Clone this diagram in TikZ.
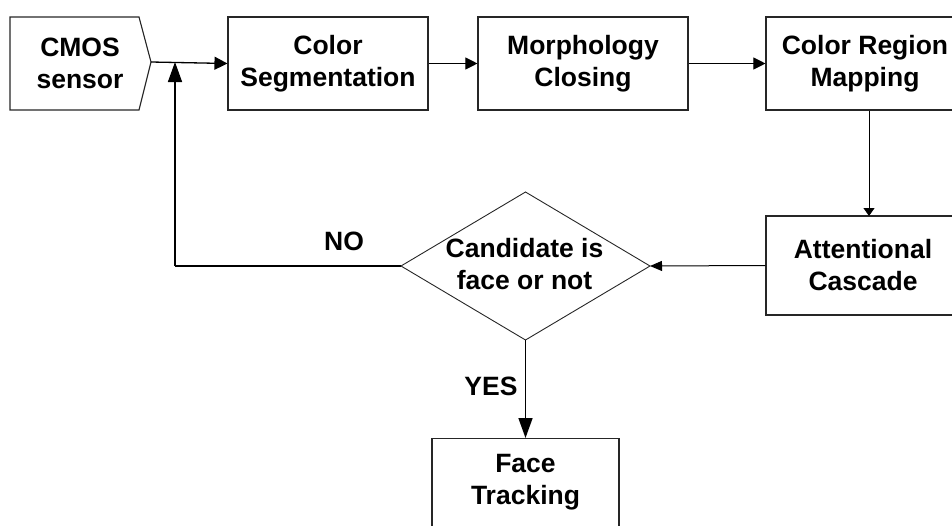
\documentclass[tikz,border=0pt]{standalone}
\usepackage{fontspec}
\setmainfont{Liberation Sans}
\usetikzlibrary{arrows.meta}
\begin{document}
\begin{tikzpicture}[x=1pt,y=-1pt,
  txt/.style={font=\fontsize{26.5}{32}\selectfont\bfseries, align=center, text=black},
  boxline/.style={draw=black!85, line width=1.1pt},
  bigv/.style={-{Triangle[length=20pt,width=14pt]}, line width=1.5pt},
  bigh/.style={-{Triangle[length=13pt,width=13pt]}, line width=1.3pt},
  smallh/.style={-{Triangle[length=12pt,width=12pt]}, line width=1pt},
  smalld/.style={-{Triangle[length=8pt,width=11pt]}, line width=1pt},
  smalll/.style={-{Triangle[length=12pt,width=10pt]}, line width=1pt}]
\useasboundingbox (0,0) rectangle (952,525);
% CMOS sensor (pentagon-like)
\draw[boxline] (10,17) -- (139,17) -- (151,62) -- (139,110) -- (10,110) -- cycle;
\coordinate (cmos) at (151,62);
\node[txt] (cmostxt) at (80,63.5) {CMOS\\sensor};
% boxes
\node[boxline, minimum width=200pt, minimum height=93pt, inner sep=0pt] (seg) at (328,63.5) {};
\node[txt] at (seg.center) {Color\\Segmentation};
\node[boxline, minimum width=210pt, minimum height=93pt, inner sep=0pt] (morph) at (583,63.5) {};
\node[txt] at (morph.center) {Morphology\\Closing};
\node[boxline, minimum width=190pt, minimum height=93pt, inner sep=0pt] (crm) at (861,63.5) {};
\node[txt] at (865,63.5) {Color Region\\Mapping};
\node[boxline, minimum width=190pt, minimum height=99pt, inner sep=0pt] (att) at (861,265.5) {};
\node[txt] at (863,265.5) {Attentional\\Cascade};
% diamond
\draw[boxline, line width=0.9pt] (401,266) -- (525.5,192) -- (650,266) -- (525.5,340) -- cycle;
\coordinate (dl) at (401,266);
\coordinate (dr) at (650,266);
\coordinate (db) at (525.5,340);
\node[txt] (dtxt) at (524.5,264) {Candidate is\\face or not};
% face tracking
\node[boxline, minimum width=187pt, minimum height=120pt, inner sep=0pt, anchor=north] (face) at (525.5,438) {};
\node[txt] at (525.5,482) {Face\\Tracking};
% connectors
\coordinate (joint) at (175,62);
\coordinate (nocorner) at (175,266);
\draw[bigh] (cmos) -- (seg.west);
\draw[smallh] (seg.east) -- (morph.west);
\draw[smallh] (morph.east) -- (crm.west);
\draw[smalld] (crm.south -| 869,0) -- (869,216);
\draw[smalll] (att.west) -- (dr);
\draw[line width=1.3pt] (dl) -- (nocorner);
\draw[bigv] (nocorner) -- (joint);
\draw[bigv] (db) -- (face.north);
\node[txt] (no) at (344,241) {NO};
\node[txt] (yes) at (491,386) {YES};
\end{tikzpicture}
\end{document}
